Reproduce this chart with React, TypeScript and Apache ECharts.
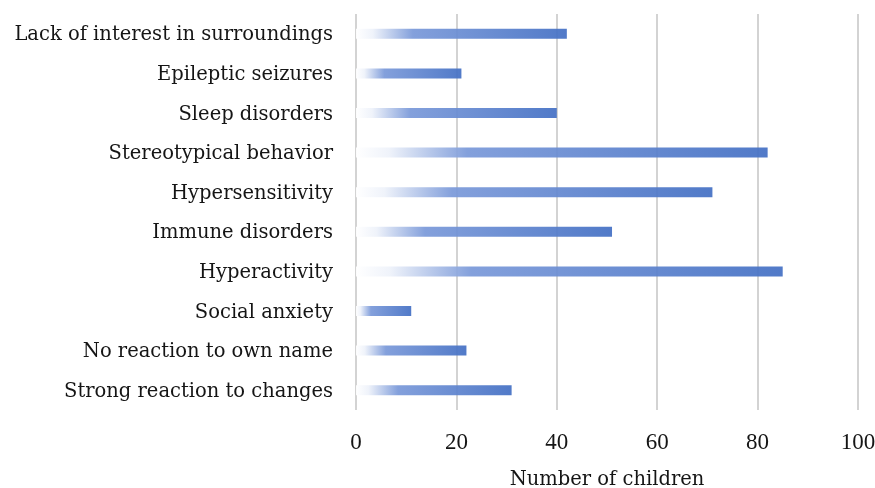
import React, { useEffect, useRef } from "react";
import * as echarts from "echarts";

// Symptoms, listed top to bottom
const categories = [
  "Lack of interest in surroundings",
  "Epileptic seizures",
  "Sleep disorders",
  "Stereotypical behavior",
  "Hypersensitivity",
  "Immune disorders",
  "Hyperactivity",
  "Social anxiety",
  "No reaction to own name",
  "Strong reaction to changes",
];

// Number of children with each symptom
const childCounts = [42, 21, 40, 82, 71, 51, 85, 11, 22, 31];

const xTicks = { min: 0, max: 100, interval: 20 };
const xAxisTitle = "Number of children";

const FONT = "'DejaVu Serif', 'Liberation Serif', serif";
const TICK_FONT = "'Liberation Serif', 'DejaVu Serif', serif";

export default function App() {
  const ref = useRef<HTMLDivElement>(null);

  useEffect(() => {
    if (!ref.current) return;
    const chart = echarts.init(ref.current, undefined, { renderer: "svg" });
    const barFill = new echarts.graphic.LinearGradient(0, 0, 1, 0, [
      { offset: 0, color: "#ffffff" },
      { offset: 0.08, color: "#eef2fa" },
      { offset: 0.27, color: "#7a99d9" },
      { offset: 1, color: "#4470c4" },
    ]);
    chart.setOption({
      animation: false,
      grid: {
        left: 356,
        right: 17,
        top: 14,
        bottom: 78,
        containLabel: false,
        // keep the plot box fixed; the axis title may run to the bottom edge
        outerBoundsMode: "none",
      },
      xAxis: {
        type: "value",
        min: xTicks.min,
        max: xTicks.max,
        interval: xTicks.interval,
        axisLine: { show: false },
        axisTick: { show: false },
        splitLine: { show: true, lineStyle: { color: "#d3d3d3", width: 2 } },
        axisLabel: { color: "#151515", fontFamily: TICK_FONT, fontSize: 23, margin: 20 },
        name: xAxisTitle,
        nameLocation: "middle",
        nameGap: 58,
        nameTextStyle: { color: "#151515", fontFamily: FONT, fontSize: 19.5 },
      },
      yAxis: {
        type: "category",
        data: categories,
        inverse: true,
        axisLine: { show: false },
        axisTick: { show: false },
        splitLine: { show: false },
        axisLabel: { color: "#151515", fontFamily: FONT, fontSize: 19.5, margin: 23 },
      },
      series: [
        {
          type: "bar",
          data: childCounts,
          barWidth: 10,
          itemStyle: { color: barFill, opacity: 0.93 },
        },
      ],
    });
    return () => chart.dispose();
  }, []);

  return (
    <div
      ref={ref}
      style={{ position: "fixed", left: 0, top: 0, width: 875, height: 488 }}
    />
  );
}
